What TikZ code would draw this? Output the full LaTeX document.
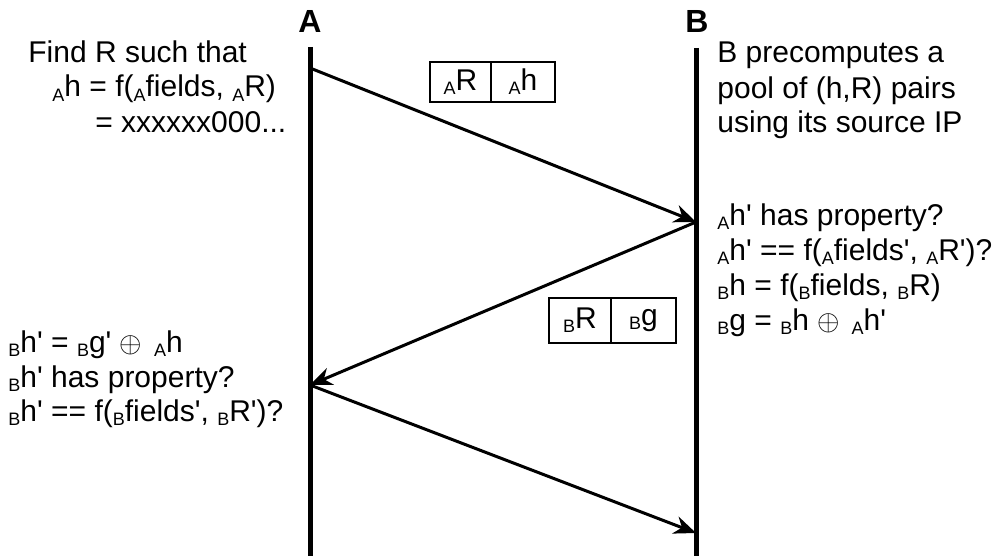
\documentclass[tikz,border=0pt]{standalone}
\usepackage{fontspec}
\setmainfont{Liberation Sans}
\usetikzlibrary{arrows.meta, positioning}
\newcommand{\party}[1]{\raisebox{-2pt}{\fontsize{9pt}{9pt}\selectfont #1}}
\newcommand{\pr}{\textquotesingle}

\begin{document}
\begin{tikzpicture}[x=0.5pt, y=-0.5pt,
   every node/.style={font=\fontsize{15pt}{17.5pt}\selectfont, inner sep=0pt},
   note/.style={anchor=base west},
   life/.style={line width=2.5pt},
   msg/.style={line width=1.5pt, -{Stealth[length=11pt, width=9pt, inset=3.5pt]}},
   cell/.style={draw, line width=1pt, outer sep=0pt}]
   \useasboundingbox (0,0) rectangle (999,556);
   % Hosts
   \node[font=\fontsize{16pt}{16pt}\selectfont\bfseries, anchor=base] (hostA) at (310,33) {A};
   \node[font=\fontsize{16pt}{16pt}\selectfont\bfseries, anchor=base] (hostB) at (697,33) {B};
   \coordinate (Atop) at (310,47);
   \coordinate (Abot) at (310,556);
   \coordinate (Btop) at (696,48);
   \coordinate (Bbot) at (696,556);
   \draw[life] (Atop) -- (Abot);
   \draw[life] (Btop) -- (Bbot);
   % Message end points
   \coordinate (a1) at (310,68);
   \coordinate (b1) at (696,222);
   \coordinate (a2) at (310,385);
   \coordinate (b2) at (696,533);
   \draw[msg] (a1) -- (b1);
   \draw[msg] (b1) -- (a2);
   \draw[msg] (a2) -- (b2);
   % Packet A -> B
   \node[cell, minimum width=30.5pt, minimum height=20pt] (pktAR) at (460.5,82) {\party{A}R};
   \node[cell, minimum width=32pt, minimum height=20pt, right=0pt of pktAR] (pktAh) {\party{A}h};
   % Packet B -> A
   \node[cell, minimum width=31pt, minimum height=22.5pt] (pktBR) at (580,320.5) {\party{B}R};
   \node[cell, minimum width=32.5pt, minimum height=22.5pt, right=0pt of pktBR] (pktBg) {\party{B}g};
   % A: initial work
   \node[note] (findA1) at (28,63) {Find R such that};
   \node[note] (findA2) at (52,97) {\party{A}h = f(\party{A}fields, \party{A}R)};
   \node[note] (findA3) at (95,133) {= xxxxxx000...};
   % B: precomputation
   \node[note] (poolB1) at (717,63) {B precomputes a};
   \node[note] (poolB2) at (717,98) {pool of (h,R) pairs};
   \node[note] (poolB3) at (717,133) {using its source IP};
   % B: check and reply
   \node[note] (chkB1) at (717,225) {\party{A}h\pr{} has property?};
   \node[note] (chkB2) at (717,260) {\party{A}h\pr{} == f(\party{A}fields\pr, \party{A}R\pr)?};
   \node[note] (chkB3) at (717,295) {\party{B}h = f(\party{B}fields, \party{B}R)};
   \node[note] (chkB4) at (717,330) {\party{B}g = \party{B}h $\oplus$\hspace{6pt}\party{A}h\pr};
   % A: final check
   \node[note] (chkA1) at (8,352) {\party{B}h\pr{} = \party{B}g\pr{} $\oplus$\hspace{6pt}\party{A}h};
   \node[note] (chkA2) at (8,387) {\party{B}h\pr{} has property?};
   \node[note] (chkA3) at (8,421) {\party{B}h\pr{} == f(\party{B}fields\pr, \party{B}R\pr)?};
\end{tikzpicture}
\end{document}
